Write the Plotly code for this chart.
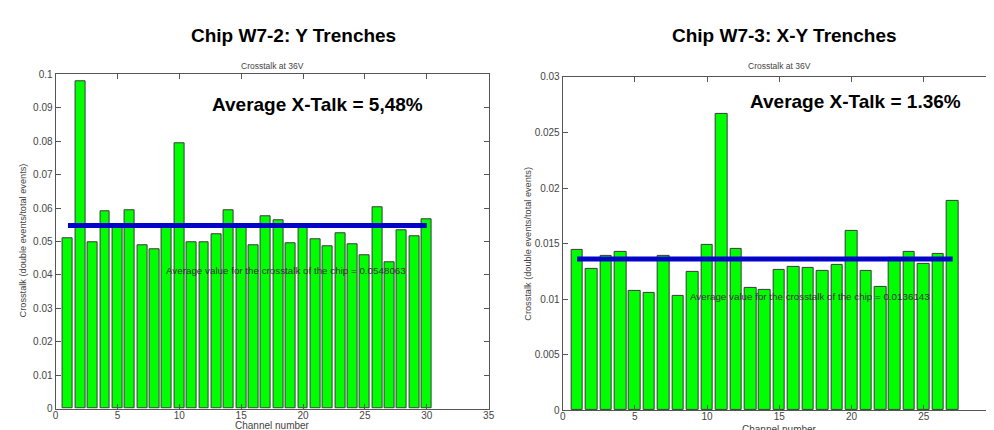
import plotly.graph_objects as go

# ---------------- data ----------------
channels_w72 = list(range(1, 31))
xtalk_w72 = [0.0510, 0.0978, 0.0497, 0.0589, 0.0546, 0.0594, 0.0489, 0.0478, 0.0543, 0.0795,
             0.0497, 0.0497, 0.0521, 0.0594, 0.0545, 0.0489, 0.0576, 0.0562, 0.0494, 0.0545,
             0.0507, 0.0486, 0.0526, 0.0492, 0.0460, 0.0601, 0.0437, 0.0534, 0.0517, 0.0567]
avg_w72 = 0.0548063

channels_w73 = list(range(1, 28))
xtalk_w73 = [0.01447, 0.01272, 0.01394, 0.01423, 0.01073, 0.01058, 0.01394, 0.01030, 0.01242, 0.01490,
             0.02665, 0.01455, 0.01102, 0.01088, 0.01260, 0.01289, 0.01280, 0.01254, 0.01312, 0.01613,
             0.01254, 0.01108, 0.01370, 0.01423, 0.01321, 0.01408, 0.01884]
avg_w73 = 0.0136143

yticks_w72 = [0, 0.01, 0.02, 0.03, 0.04, 0.05, 0.06, 0.07, 0.08, 0.09, 0.1]
ytick_labels_w72 = ["0", "0.01", "0.02", "0.03", "0.04", "0.05", "0.06", "0.07", "0.08", "0.09", "0.1"]
yticks_w73 = [0, 0.005, 0.01, 0.015, 0.02, 0.025, 0.03]
ytick_labels_w73 = ["0", "0.005", "0.01", "0.015", "0.02", "0.025", "0.03"]
xticks_w72 = [0, 5, 10, 15, 20, 25, 30, 35]
xticks_w73 = [0, 5, 10, 15, 20, 25, 30]

FONT = "Liberation Sans, Arial, sans-serif"
W, H = 994, 430
BAR_GREEN = "#00ff00"
LINE_BLUE = "#0404c8"
AX_COL = "#555555"
TXT_COL = "#444444"

fig = go.Figure()

fig.add_trace(go.Bar(x=channels_w72, y=xtalk_w72, width=0.8,
                     marker=dict(color=BAR_GREEN, line=dict(color="#3a3a3a", width=1)),
                     xaxis="x", yaxis="y", showlegend=False))
fig.add_trace(go.Scatter(x=[min(channels_w72), max(channels_w72)], y=[avg_w72, avg_w72],
                         mode="lines", line=dict(color=LINE_BLUE, width=5),
                         xaxis="x", yaxis="y", showlegend=False))

fig.add_trace(go.Bar(x=channels_w73, y=xtalk_w73, width=0.8,
                     marker=dict(color=BAR_GREEN, line=dict(color="#3a3a3a", width=1)),
                     xaxis="x2", yaxis="y2", showlegend=False))
fig.add_trace(go.Scatter(x=[min(channels_w73), max(channels_w73)], y=[avg_w73, avg_w73],
                         mode="lines", line=dict(color=LINE_BLUE, width=5),
                         xaxis="x2", yaxis="y2", showlegend=False))

axis_common = dict(showgrid=False, zeroline=False, showline=True, mirror="ticks",
                   linecolor=AX_COL, linewidth=1, ticks="inside", ticklen=5,
                   tickcolor=AX_COL, tickfont=dict(family=FONT, size=10, color=TXT_COL))

# pixel geometry
L_x0, L_x1 = 45, 482
L_y0, L_y1 = 62, 406
R_x0, R_x1 = 556.7, 994
R_y0, R_y1 = 64.7, 407.7

fig.update_layout(
    width=W, height=H,
    margin=dict(l=0, r=0, t=0, b=0),
    paper_bgcolor="white", plot_bgcolor="white",
    bargap=0,
    xaxis=dict(axis_common, domain=[L_x0 / W, L_x1 / W], range=[0, 35],
               tickvals=xticks_w72, anchor="y", ticklabelstandoff=-3),
    yaxis=dict(axis_common, domain=[1 - L_y1 / H, 1 - L_y0 / H], range=[0, 0.1],
               tickvals=yticks_w72, ticktext=ytick_labels_w72, anchor="x"),
    xaxis2=dict(axis_common, domain=[R_x0 / W, R_x1 / W], range=[0, 30],
                tickvals=xticks_w73, anchor="y2", ticklabelstandoff=-3),
    yaxis2=dict(axis_common, domain=[1 - R_y1 / H, 1 - R_y0 / H], range=[0, 0.03],
                tickvals=yticks_w73, ticktext=ytick_labels_w73, anchor="x2"),
)

ann = []
def px(x, y, text, size, bold=False, color="black", angle=0, xa="center", ya="middle"):
    ann.append(dict(xref="paper", yref="paper", x=x / W, y=1 - y / H, text=text,
                    showarrow=False, textangle=angle, xanchor=xa, yanchor=ya,
                    font=dict(family=FONT, size=size, color=color)))

# main titles
px(285.5, 22, "<b>Chip W7-2: Y Trenches</b>", 19)
px(781, 22, "<b>Chip W7-3: X-Y Trenches</b>", 19)
# subtitles
px(263.5, 53, "Crosstalk at 36V", 8.5, color=TXT_COL)
px(776, 54, "Crosstalk at 36V", 8.5, color=TXT_COL)
# axis titles
px(13, 233, "Crosstalk (double events/total events)", 9.2, color=TXT_COL, angle=-90)
px(522, 236, "Crosstalk (double events/total events)", 9.2, color=TXT_COL, angle=-90)
px(263.5, 423.5, "Channel number", 10, color=TXT_COL)
px(776, 427, "Channel number", 10, color=TXT_COL)

# data-anchored texts
ann.append(dict(xref="x", yref="y", x=21.2, y=0.091, text="<b>Average X-Talk = 5,48%</b>",
                showarrow=False, font=dict(family=FONT, size=19, color="black")))
ann.append(dict(xref="x", yref="y", x=18.6, y=0.0413,
                text="Average value for the crosstalk of the chip = %.7f" % avg_w72,
                showarrow=False, font=dict(family=FONT, size=9.8, color="#333333")))
ann.append(dict(xref="x2", yref="y2", x=20.3, y=0.0278, text="<b>Average X-Talk = 1.36%</b>",
                showarrow=False, font=dict(family=FONT, size=19, color="black")))
ann.append(dict(xref="x2", yref="y2", x=17.1, y=0.0102,
                text="Average value for the crosstalk of the chip = %.7f" % avg_w73,
                showarrow=False, font=dict(family=FONT, size=9.8, color="#333333")))

fig.update_layout(annotations=ann)
fig.write_html("out.html")
